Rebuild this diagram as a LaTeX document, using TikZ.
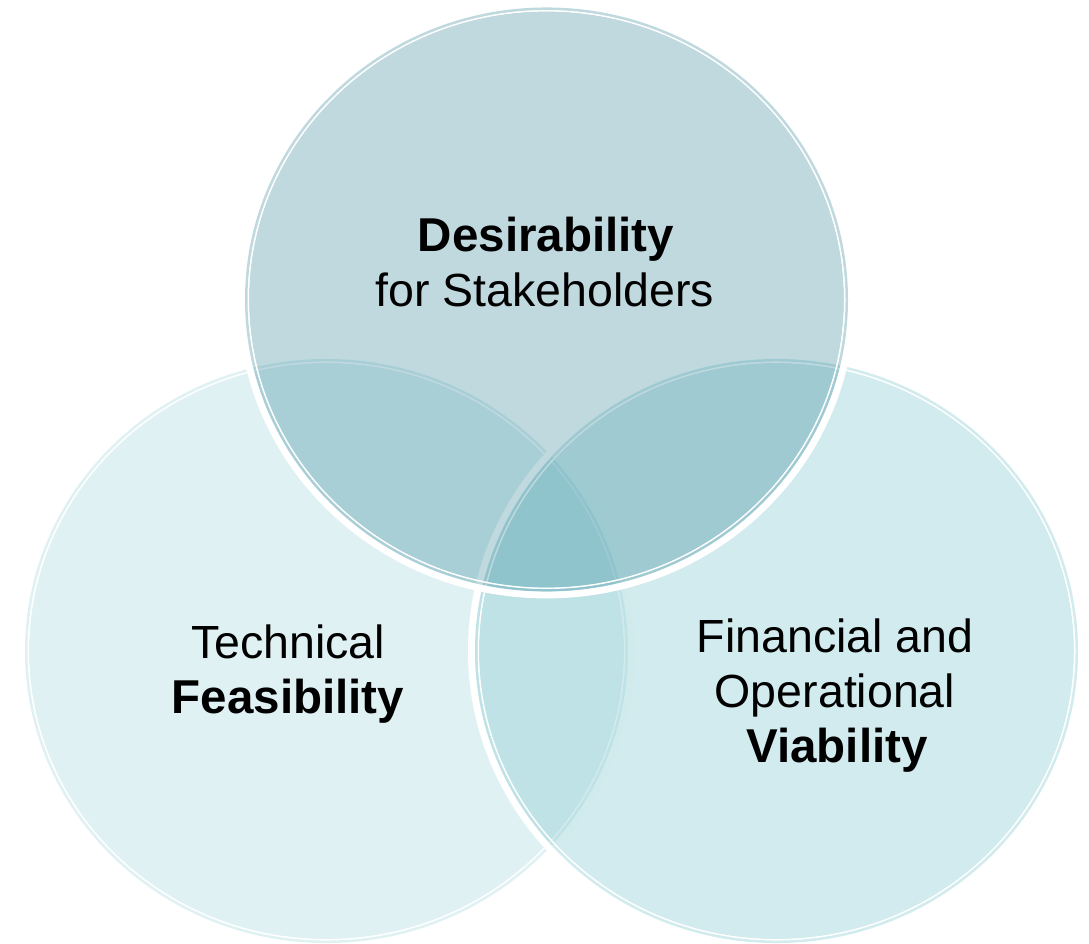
\documentclass[tikz,border=0pt]{standalone}
\usepackage{fontspec}
\setmainfont{Liberation Sans}
\definecolor{topc}{RGB}{13,109,132}
\definecolor{lowc}{RGB}{128,199,207}
\tikzset{
  lbl/.style={anchor=base, inner sep=0pt, text=black, font=\fontsize{46.5}{55}\selectfont},
  blbl/.style={anchor=base, inner sep=0pt, text=black, font=\fontsize{47.5}{55}\selectfont\bfseries},
}
\newcommand\myvenncircle[3]{%
  \begin{scope}[shift={(#1)}, yscale=0.9685]
    \draw[white, line width=7pt] (0,0) circle (305);
    \fill[#2, opacity=#3] (0,0) circle (297.5);
    \draw[white, line width=1.5pt] (0,0) circle (298.25);
    \draw[#2, opacity=#3, line width=2.5pt] (0,0) circle (300.25);
  \end{scope}}
\begin{document}
\begin{tikzpicture}[x=1pt, y=-1pt]
  \useasboundingbox (0,0) rectangle (1089,943);
  \clip (0,0) rectangle (1089,943);
  \coordinate (cl) at (326.5,651);
  \coordinate (cr) at (776.5,651);
  \coordinate (ct) at (546.5,299.5);
  \myvenncircle{cl}{lowc}{0.245}
  \myvenncircle{cr}{lowc}{0.355}
  \myvenncircle{ct}{topc}{0.26}
  % labels
  \node[blbl] (d1) at (546,251) {Desirability};
  \node[lbl]  (d2) at (545,306) {for Stakeholders};
  \node[lbl]  (t1) at (288,658) {Technical};
  \node[blbl] (t2) at (288,713) {Feasibility};
  \node[lbl]  (f1) at (835,652) {Financial and};
  \node[lbl]  (f2) at (835,707) {Operational};
  \node[blbl] (f3) at (837,762) {Viability};
\end{tikzpicture}
\end{document}
